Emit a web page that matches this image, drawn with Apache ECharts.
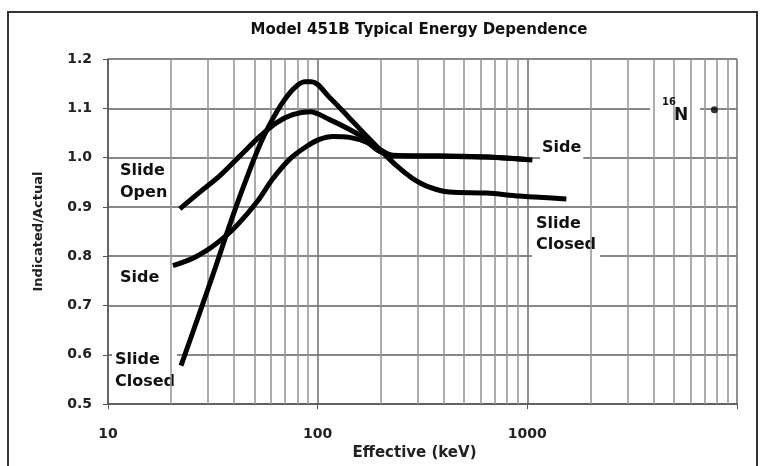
<!DOCTYPE html>
<html>
<head>
<meta charset="utf-8">
<script src="https://cdn.jsdelivr.net/npm/echarts@6/dist/echarts.min.js"></script>
<style>html,body{margin:0;padding:0;background:#fff;}#c{width:764px;height:466px;}</style>
</head>
<body>
<div id="c"></div>
<script>
// ---- data ----
const titleText = 'Model 451B Typical Energy Dependence';
const xTickLabels = [10, 100, 1000];
const yTicks = [0.5, 0.6, 0.7, 0.8, 0.9, 1.0, 1.1, 1.2];
const minorEnergies = [20,30,40,50,60,70,80,90,200,300,400,500,600,700,800,900,2000,3000,4000,5000,6000,7000,8000,9000];

const sideE = [20.4,25.4,30.6,35.3,41.1,51.3,61.1,73.6,88.7,102,118,142,171,197,228,381,638,1057];
const sideV = [0.781,0.796,0.816,0.836,0.862,0.910,0.957,0.997,1.023,1.037,1.043,1.041,1.031,1.013,1.003,1.003,1.001,0.995];

const openE = [22,27.4,34.1,42.5,53,63.8,76,91.6,114,142,171,197,228,381,638,1000];
const openV = [0.896,0.930,0.963,1.003,1.043,1.071,1.087,1.093,1.077,1.057,1.037,1.017,1.005,1.003,1.001,0.996];

const closedE = [22.3,27.4,32.4,38.1,44.9,52.9,60.4,68.1,76.9,86.7,93.5,114,142,171,204,240,283,341,425,638,916,1535];
const closedV = [0.578,0.686,0.775,0.864,0.948,1.025,1.075,1.112,1.140,1.154,1.154,1.122,1.080,1.044,1.011,0.982,0.958,0.940,0.930,0.928,0.922,0.916];

const n16E = [7800];
const n16V = [1.097];

// ---- chart ----
const zip = (a, b) => a.map((v, i) => [v, b[i]]);
const FONT = '"DejaVu Sans", "Liberation Sans", sans-serif';
const chart = echarts.init(document.getElementById('c'), null, {renderer: 'canvas'});

const curve = (name, e, v) => ({
  name, type: 'line', data: zip(e, v), smooth: 0.35, showSymbol: false, symbol: 'none',
  z: 10, lineStyle: {color: '#000', width: 5}, silent: true
});

const option = {
  animation: false,
  backgroundColor: '#fff',
  textStyle: {fontFamily: FONT},
  grid: {left: 108, right: 27, top: 59, bottom: 59, containLabel: false},
  xAxis: {
    type: 'log', logBase: 10, min: 10, max: 10000,
    name: 'Effective (keV)', nameLocation: 'middle', nameGap: 37,
    nameTextStyle: {fontFamily: FONT, fontWeight: 'bold', fontSize: 15, color: '#222', padding: [0, 16, 0, 0]},
    axisLine: {show: true, lineStyle: {color: '#555', width: 1.5}},
    axisTick: {show: true, length: 5, lineStyle: {color: '#555'}},
    axisLabel: {
      margin: 23, fontFamily: FONT, fontWeight: 'bold', fontSize: 14, color: '#222',
      formatter: v => (xTickLabels.indexOf(Math.round(v)) >= 0 ? String(Math.round(v)) : '')
    },
    splitLine: {show: true, lineStyle: {color: '#777', width: 1.6}}
  },
  yAxis: {
    type: 'value', min: 0.5, max: 1.2, interval: 0.1,
    name: 'Indicated/Actual', nameLocation: 'middle', nameGap: 63, nameRotate: 90,
    nameTextStyle: {fontFamily: FONT, fontWeight: 'bold', fontSize: 13, color: '#222'},
    axisLine: {show: true, lineStyle: {color: '#555', width: 1.5}},
    axisTick: {show: true, length: 5, lineStyle: {color: '#555'}},
    axisLabel: {margin: 16, fontFamily: FONT, fontWeight: 'bold', fontSize: 14, color: '#222',
      formatter: v => Number(v).toFixed(1)},
    splitLine: {show: true, lineStyle: {color: '#888', width: 2}}
  },
  series: [
    {
      name: 'minorGrid', type: 'line', data: [[10, 0.5]], showSymbol: false, symbol: 'none',
      lineStyle: {width: 0}, z: 1, silent: true,
      markLine: {
        silent: true, symbol: ['none', 'none'], label: {show: false},
        lineStyle: {color: '#999', width: 1.6, type: 'solid'},
        data: minorEnergies.map(e => ({xAxis: e}))
      }
    },
    curve('Slide Open', openE, openV),
    curve('Side', sideE, sideV),
    curve('Slide Closed', closedE, closedV),
    {
      name: '16N', type: 'scatter', data: zip(n16E, n16V), symbol: 'circle', symbolSize: 7,
      itemStyle: {color: '#000'}, z: 12, silent: true
    }
  ],
  graphic: [
    {type: 'rect', z: 50, shape: {x: 8, y: 12, width: 749, height: 480},
      style: {fill: 'none', stroke: '#333', lineWidth: 2}, silent: true},
    {type: 'text', z: 50, x: 419, y: 30, silent: true,
      style: {text: titleText, font: 'bold 15px ' + FONT, fill: '#111', textAlign: 'center', textVerticalAlign: 'middle'}},
    {type: 'text', z: 5, x: 118, y: 160, silent: true,
      style: {text: 'Slide\nOpen', font: 'bold 16px ' + FONT, fill: '#111', lineHeight: 22, backgroundColor: '#fff', padding: [0, 2]}},
    {type: 'text', z: 5, x: 118, y: 267, silent: true,
      style: {text: 'Side', font: 'bold 16px ' + FONT, fill: '#111', lineHeight: 22, backgroundColor: '#fff', padding: [0, 2]}},
    {type: 'text', z: 5, x: 112, y: 347, silent: true,
      style: {text: 'Slide\nClosed', font: 'bold 16px ' + FONT, fill: '#111', lineHeight: 22, backgroundColor: '#fff', padding: [2, 2, 2, 3]}},
    {type: 'text', z: 5, x: 540, y: 137, silent: true,
      style: {text: 'Side', font: 'bold 16px ' + FONT, fill: '#111', lineHeight: 22, backgroundColor: '#fff', padding: [0, 2]}},
    {type: 'text', z: 5, x: 532, y: 211, silent: true,
      style: {text: 'Slide\nClosed', font: 'bold 16px ' + FONT, fill: '#111', lineHeight: 21, backgroundColor: '#fff', padding: [2, 4]}},
    {type: 'rect', z: 5, shape: {x: 650, y: 88, width: 50, height: 37}, style: {fill: '#fff'}, silent: true},
    {type: 'text', z: 6, x: 662, y: 97, silent: true,
      style: {text: '16', font: 'bold 10px ' + FONT, fill: '#111'}},
    {type: 'text', z: 6, x: 674, y: 107, silent: true,
      style: {text: 'N', font: 'bold 17px ' + FONT, fill: '#111'}}
  ]
};
chart.setOption(option);
</script>
</body>
</html>
